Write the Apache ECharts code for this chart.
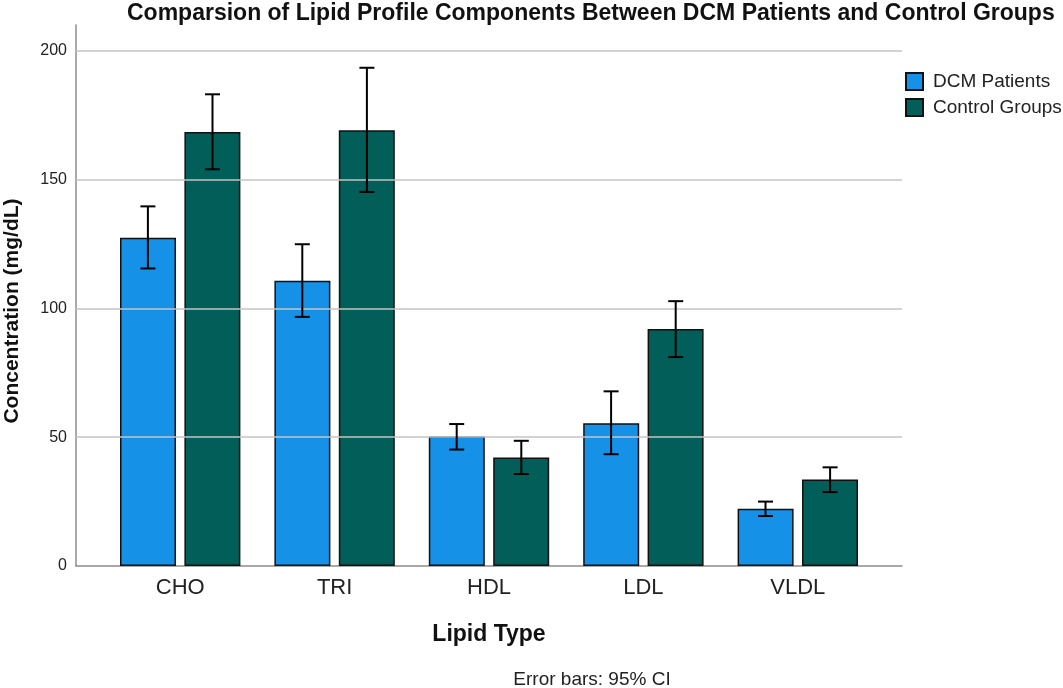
<!DOCTYPE html>
<html>
<head>
<meta charset="utf-8">
<script src="https://cdn.jsdelivr.net/npm/echarts@6/dist/echarts.min.js"></script>
<style>
html,body{margin:0;padding:0;background:#fff;}
#chart{width:1063px;height:688px;}
</style>
</head>
<body>
<div id="chart"></div>
<script>
var categories = ['CHO', 'TRI', 'HDL', 'LDL', 'VLDL'];
var dcmMean = [127.4, 110.7, 50.3, 55.4, 22.2];
var dcmLow = [115.5, 96.7, 45.2, 43.4, 19.4];
var dcmHigh = [139.6, 124.9, 55.1, 67.8, 25.0];
var ctrlMean = [168.5, 169.1, 42.1, 92.0, 33.6];
var ctrlLow = [154.0, 145.2, 35.7, 81.1, 28.7];
var ctrlHigh = [183.1, 193.4, 48.6, 102.8, 38.3];
var yTicks = [50, 100, 150, 200];
var seriesNames = ['DCM Patients', 'Control Groups'];

var FONT = '"Liberation Sans", Arial, Helvetica, sans-serif';
var BLUE = '#1591E8';
var TEAL = '#015E59';
var BAR_OFFSET = 32.3;

function errData(low, high) {
  return categories.map(function (c, i) { return [i, low[i], high[i]]; });
}

function errRender(offset) {
  return function (params, api) {
    var i = api.value(0);
    var pLow = api.coord([i, api.value(1)]);
    var pHigh = api.coord([i, api.value(2)]);
    var x = pLow[0] + offset;
    var cap = 7.5;
    var st = { stroke: '#000', lineWidth: 2 };
    return {
      type: 'group',
      children: [
        { type: 'line', shape: { x1: x, y1: pLow[1], x2: x, y2: pHigh[1] }, style: st },
        { type: 'line', shape: { x1: x - cap, y1: pLow[1], x2: x + cap, y2: pLow[1] }, style: st },
        { type: 'line', shape: { x1: x - cap, y1: pHigh[1], x2: x + cap, y2: pHigh[1] }, style: st }
      ]
    };
  };
}

var chart = echarts.init(document.getElementById('chart'));
var option = {
  backgroundColor: '#fff',
  animation: false,
  textStyle: { fontFamily: FONT },
  title: {
    text: 'Comparsion of Lipid Profile Components Between DCM Patients and Control Groups',
    left: 122, top: -3,
    textStyle: { fontFamily: FONT, fontSize: 23, fontWeight: 'bold', color: '#111' }
  },
  legend: {
    data: seriesNames,
    orient: 'vertical',
    left: 905, top: 72, padding: 0,
    itemWidth: 17, itemHeight: 17, itemGap: 7,
    icon: 'rect',
    textStyle: { fontFamily: FONT, fontSize: 19, color: '#222', padding: [0, 0, 0, 5] }
  },
  grid: [
    { left: 76, right: 161, top: 25, bottom: 122 },
    { left: 103, right: 188, top: 25, bottom: 122 }
  ],
  xAxis: [
    { type: 'value', gridIndex: 0, min: 0, max: 1, axisLine: { show: true, lineStyle: { color: '#8c8c8c', width: 1.5 } },
      axisTick: { show: false }, axisLabel: { show: false }, splitLine: { show: false } },
    { type: 'category', gridIndex: 1, data: categories, boundaryGap: true,
      axisLine: { show: false }, axisTick: { show: false }, splitLine: { show: false },
      axisLabel: { fontFamily: FONT, fontSize: 22, color: '#222', margin: 11 } }
  ],
  yAxis: [
    { type: 'value', gridIndex: 0, min: 0, max: 210, interval: 50,
      axisLine: { show: true, lineStyle: { color: '#8c8c8c', width: 1.5 } },
      axisTick: { show: false }, splitLine: { show: false },
      axisLabel: { fontFamily: FONT, fontSize: 16, color: '#222', margin: 9,
        formatter: function (v) { return v > 200 ? '' : String(v); } } },
    { type: 'value', gridIndex: 1, min: 0, max: 210, interval: 50, show: false, splitLine: { show: false } }
  ],
  series: [
    {
      type: 'line', xAxisIndex: 0, yAxisIndex: 0, data: [[0, 0]], showSymbol: false, symbol: 'none',
      lineStyle: { opacity: 0 }, silent: true, legendHoverLink: false,
      markLine: {
        silent: true, symbol: 'none', label: { show: false },
        lineStyle: { color: '#c4c4c4', width: 1.5, type: 'solid' },
        data: yTicks.map(function (v) { return { yAxis: v }; })
      }
    },
    {
      name: seriesNames[0], type: 'bar', xAxisIndex: 1, yAxisIndex: 1, data: dcmMean,
      barWidth: 56, barGap: '15%',
      itemStyle: { color: BLUE, borderColor: '#111', borderWidth: 1.5 }
    },
    {
      name: seriesNames[1], type: 'bar', xAxisIndex: 1, yAxisIndex: 1, data: ctrlMean,
      barWidth: 56, barGap: '15%',
      itemStyle: { color: TEAL, borderColor: '#111', borderWidth: 1.5 }
    },
    {
      type: 'custom', xAxisIndex: 1, yAxisIndex: 1, z: 10, data: errData(dcmLow, dcmHigh),
      renderItem: errRender(-BAR_OFFSET), encode: { x: 0, y: [1, 2] }
    },
    {
      type: 'custom', xAxisIndex: 1, yAxisIndex: 1, z: 10, data: errData(ctrlLow, ctrlHigh),
      renderItem: errRender(BAR_OFFSET), encode: { x: 0, y: [1, 2] }
    }
  ],
  graphic: [
    { type: 'text', x: 12, y: 311, rotation: Math.PI / 2,
      style: { text: 'Concentration (mg/dL)', textAlign: 'center', textVerticalAlign: 'middle',
        font: 'bold 21px ' + FONT, fill: '#111' } },
    { type: 'text', x: 489, y: 635,
      style: { text: 'Lipid Type', textAlign: 'center', textVerticalAlign: 'middle',
        font: 'bold 23px ' + FONT, fill: '#111' } },
    { type: 'text', x: 592, y: 680,
      style: { text: 'Error bars: 95% CI', textAlign: 'center', textVerticalAlign: 'middle',
        font: '19px ' + FONT, fill: '#222' } }
  ]
};
chart.setOption(option);
</script>
</body>
</html>
